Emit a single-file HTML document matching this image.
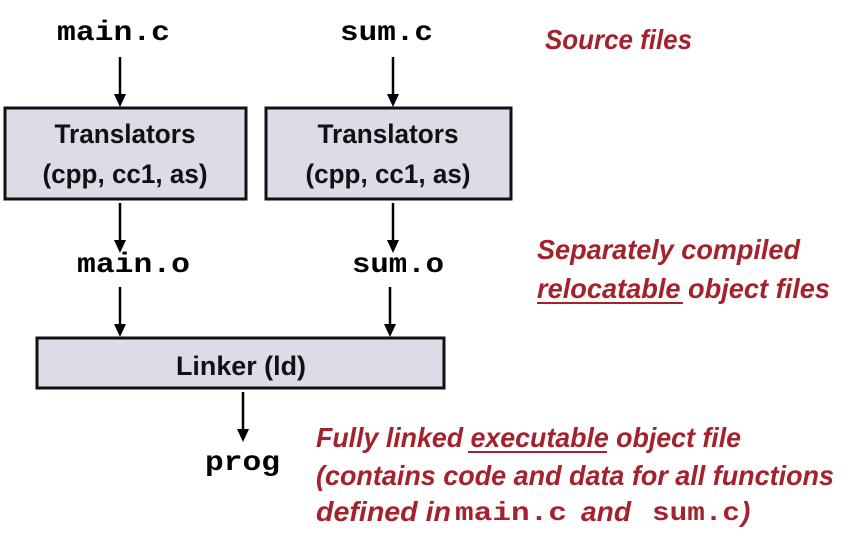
<!DOCTYPE html>
<html><head><meta charset="utf-8"><style>html,body{margin:0;padding:0;background:#fff}svg{display:block}</style></head>
<body>
<svg width="857" height="543" viewBox="0 0 857 543" xmlns="http://www.w3.org/2000/svg">
<g font-family="Liberation Mono, monospace" font-weight="bold" font-size="28" fill="#000">
<text x="57" y="40" textLength="113" lengthAdjust="spacingAndGlyphs">main.c</text>
<text x="340" y="40" textLength="93" lengthAdjust="spacingAndGlyphs">sum.c</text>
<text x="77" y="272" textLength="113" lengthAdjust="spacingAndGlyphs">main.o</text>
<text x="352" y="272" textLength="92" lengthAdjust="spacingAndGlyphs">sum.o</text>
<text x="205" y="470" textLength="75" lengthAdjust="spacingAndGlyphs">prog</text>
</g>
<g stroke="#000" stroke-width="2.5">
<line x1="120" y1="57" x2="120" y2="96"/>
<line x1="393" y1="57" x2="393" y2="96"/>
<line x1="120" y1="203" x2="120" y2="242"/>
<line x1="393" y1="203" x2="393" y2="242"/>
<line x1="120" y1="287" x2="120" y2="326"/>
<line x1="390" y1="287" x2="390" y2="326"/>
<line x1="243" y1="392" x2="243" y2="431"/>
</g>
<g fill="#000">
<path d="M114,94 L126,94 L120,107 Z"/>
<path d="M387,94 L399,94 L393,107 Z"/>
<path d="M114,240 L126,240 L120,253 Z"/>
<path d="M387,240 L399,240 L393,253 Z"/>
<path d="M114,324 L126,324 L120,337 Z"/>
<path d="M384,324 L396,324 L390,337 Z"/>
<path d="M237,429 L249,429 L243,442 Z"/>
</g>
<g fill="#dcdce8" stroke="#111" stroke-width="3">
<rect x="5" y="108" width="241" height="91"/>
<rect x="266" y="108" width="245" height="91"/>
<rect x="37" y="338" width="407" height="50"/>
</g>
<g font-family="Liberation Sans, sans-serif" font-weight="bold" font-size="27" fill="#111" text-anchor="middle">
<text x="125" y="143" textLength="141" lengthAdjust="spacingAndGlyphs">Translators</text>
<text x="125" y="183" textLength="165" lengthAdjust="spacingAndGlyphs">(cpp, cc1, as)</text>
<text x="388" y="143" textLength="141" lengthAdjust="spacingAndGlyphs">Translators</text>
<text x="388" y="183" textLength="165" lengthAdjust="spacingAndGlyphs">(cpp, cc1, as)</text>
<text x="241" y="375" textLength="130" lengthAdjust="spacingAndGlyphs">Linker (ld)</text>
</g>
<g font-family="Liberation Sans, sans-serif" font-weight="bold" font-style="italic" font-size="28" fill="#a3222c">
<text x="545" y="49" textLength="147" lengthAdjust="spacingAndGlyphs">Source files</text>
<text x="537" y="259" textLength="263" lengthAdjust="spacingAndGlyphs">Separately compiled</text>
<text x="537" y="298" textLength="293" lengthAdjust="spacingAndGlyphs">relocatable object files</text>
<text x="316" y="447" textLength="425" lengthAdjust="spacingAndGlyphs">Fully linked executable object file</text>
<text x="316" y="485" textLength="518" lengthAdjust="spacingAndGlyphs">(contains code and data for all functions</text>
<text x="316" y="521" textLength="135" lengthAdjust="spacingAndGlyphs">defined in</text>
<text x="581" y="521" textLength="50" lengthAdjust="spacingAndGlyphs">and</text>
<text x="741" y="521">)</text>
</g>
<g font-family="Liberation Mono, monospace" font-weight="bold" font-size="26" fill="#a3222c">
<text x="455" y="520" textLength="112" lengthAdjust="spacingAndGlyphs">main.c</text>
<text x="652" y="520" textLength="88" lengthAdjust="spacingAndGlyphs">sum.c</text>
</g>
<g stroke="#a3222c" stroke-width="2">
<line x1="537" y1="303" x2="683" y2="303"/>
<line x1="468" y1="452" x2="607" y2="452"/>
</g>
</svg>
</body></html>
